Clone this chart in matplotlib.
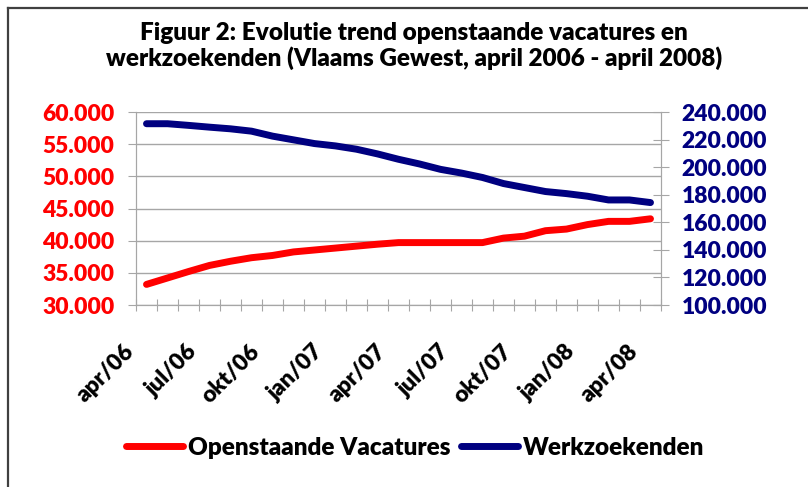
import numpy as np
import matplotlib
matplotlib.use("Agg")
import matplotlib.pyplot as plt
import matplotlib.transforms as mtransforms
from matplotlib.ticker import FuncFormatter
from matplotlib.lines import Line2D

# maanden april 2006 - april 2008
maanden = ["apr/06", "mei/06", "jun/06", "jul/06", "aug/06", "sep/06", "okt/06",
           "nov/06", "dec/06", "jan/07", "feb/07", "mrt/07", "apr/07", "mei/07",
           "jun/07", "jul/07", "aug/07", "sep/07", "okt/07", "nov/07", "dec/07",
           "jan/08", "feb/08", "mrt/08", "apr/08"]

vacatures = [33200, 34200, 35200, 36150, 36800, 37350, 37700, 38250, 38550,
             38850, 39150, 39450, 39700, 39700, 39700, 39700, 39700, 40400,
             40700, 41550, 41800, 42500, 43000, 43000, 43400]

werkzoekenden = [231500, 231500, 230300, 229000, 227800, 226100, 222500,
                 219800, 217100, 215400, 213000, 209600, 205700, 202300,
                 198400, 195700, 192500, 188100, 185200, 182300, 180800,
                 178900, 176200, 176200, 174300]

titel = ["Figuur 2: Evolutie trend openstaande vacatures en",
         "werkzoekenden (Vlaams Gewest, april 2006 - april 2008)"]

plt.rcParams['font.family'] = ['Lato', 'DejaVu Sans']
plt.rcParams['font.weight'] = 'heavy'

RED = "#FF0000"
NAVY = "#000080"
GRID = "#A6A6A6"
FS = 16.5

W, H = 808, 487
fig = plt.figure(figsize=(W / 100, H / 100), dpi=100)
ax = fig.add_axes([136 / W, 1 - 305 / H, (661 - 136) / W, (305 - 112) / H])
ax2 = ax.twinx()

x = np.arange(len(maanden))
l1, = ax.plot(x, vacatures, color=RED, lw=5, solid_capstyle='round', zorder=3)
l2, = ax2.plot(x, werkzoekenden, color=NAVY, lw=5, solid_capstyle='round', zorder=3)

ax.set_xlim(-0.5, len(maanden) - 0.5)
ax.set_ylim(30000, 60000)
ax2.set_ylim(100000, 240000)
ax.set_yticks(np.arange(30000, 60001, 5000))
ax2.set_yticks(np.arange(100000, 240001, 20000))

fmt = FuncFormatter(lambda v, p: f"{v:,.0f}".replace(",", "."))
ax.yaxis.set_major_formatter(fmt)
ax2.yaxis.set_major_formatter(fmt)

ax.yaxis.grid(True, color=GRID, lw=1)
ax.set_axisbelow(True)

# categorie-as: streepjes tussen de maanden, label om de 3 maanden
ax.set_xticks(np.arange(-0.5, len(maanden), 1))
ax.set_xticklabels([])
ax.tick_params(axis='x', length=9, direction='inout', color=GRID)

trans = mtransforms.blended_transform_factory(ax.transData, ax.transAxes)
trans = trans + mtransforms.ScaledTranslation(-16 / 100, -43 / 100, fig.dpi_scale_trans)
for i in range(0, len(maanden), 3):
    ax.text(x[i], 0, maanden[i], transform=trans, rotation=45, ha='right',
            va='center', rotation_mode='anchor', fontsize=FS)

ax.tick_params(axis='y', length=5.5, color=GRID, labelcolor=RED, labelsize=FS, pad=10)
ax2.tick_params(axis='y', length=11, direction='inout', color=GRID,
                labelcolor=NAVY, labelsize=FS, pad=9.5)

for a in (ax, ax2):
    for s in a.spines.values():
        s.set_color(GRID)
    a.spines['top'].set_visible(False)

fig.text(414 / W, 1 - 39.5 / H, titel[0], ha='center', va='baseline', fontsize=17.5)
fig.text(414 / W, 1 - 65.5 / H, titel[1], ha='center', va='baseline', fontsize=17.5)

fig.legend([l1, l2], ["Openstaande Vacatures", "Werkzoekenden"],
           loc='center', bbox_to_anchor=(415 / W, 1 - 448 / H), ncol=2,
           frameon=False, fontsize=17.5, handlelength=2.35, handletextpad=0.2,
           columnspacing=0.45)

# rand van het grafiekgebied
fig.add_artist(Line2D([8 / W, 8 / W], [0, 1 - 8 / H], color="#404040", lw=1.6))
fig.add_artist(Line2D([8 / W, 1], [1 - 8 / H, 1 - 8 / H], color="#404040", lw=1.6))

fig.savefig("out.png", dpi=100)
